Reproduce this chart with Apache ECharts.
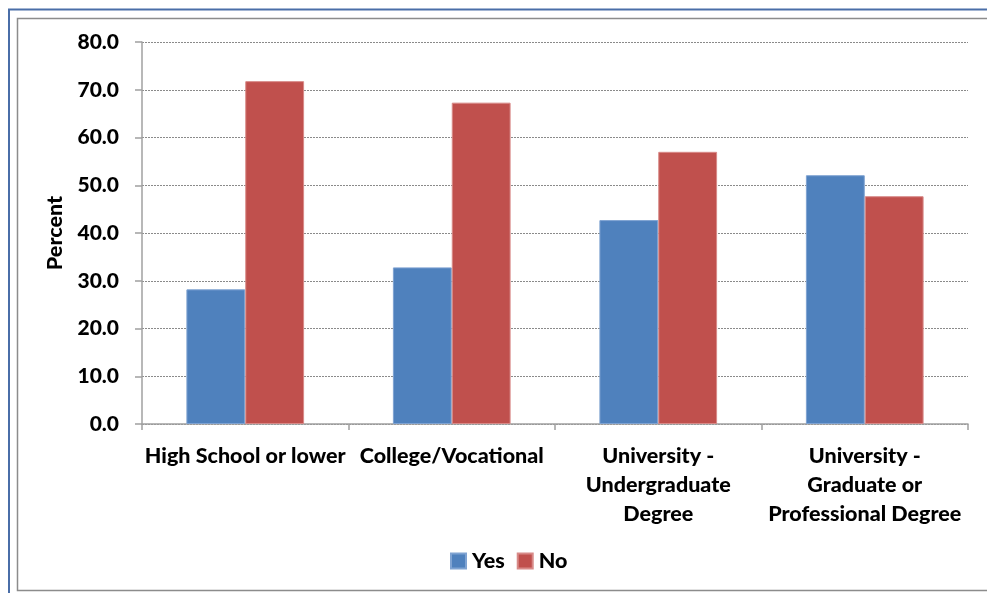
<!DOCTYPE html>
<html>
<head>
<meta charset="utf-8">
<script src="https://cdn.jsdelivr.net/npm/echarts@6/dist/echarts.min.js"></script>
<style>
  html, body { margin: 0; padding: 0; background: #ffffff; }
  #chart { width: 987px; height: 593px; }
</style>
</head>
<body>
<div id="chart"></div>
<script>
// Education level categories
const categories = [
  'High School or lower',
  'College/Vocational',
  'University -\nUndergraduate\nDegree',
  'University -\nGraduate or\nProfessional Degree'
];
// Percent answering Yes / No per category
const yesValues = [28.2, 32.8, 42.7, 52.1];
const noValues = [71.8, 67.3, 57.0, 47.7];
const seriesNames = ['Yes', 'No'];
const yTicks = { min: 0, max: 80, interval: 10 };

const fontFamily = 'Lato, "Open Sans", sans-serif';
const heavy = 900;
const chart = echarts.init(document.getElementById('chart'));

chart.setOption({
  animation: false,
  graphic: [
    // outer blue frame
    { type: 'polyline', shape: { points: [[9, 593], [9, 9.5], [987, 9.5]] },
      style: { stroke: '#4a6ea8', lineWidth: 2, fill: null } },
    // inner gray frame
    { type: 'rect', shape: { x: 17.5, y: 18.5, width: 990, height: 572 },
      style: { stroke: '#8c8c8c', lineWidth: 1.5, fill: null } }
  ],
  grid: { left: 142, right: 19, top: 42, bottom: 169 },
  legend: {
    data: seriesNames,
    top: 545,
    left: 445,
    itemWidth: 15,
    itemHeight: 15,
    itemGap: 12,
    icon: 'rect',
    textStyle: { fontFamily, fontWeight: heavy, fontSize: 21.5, color: '#000', padding: [0, 0, 0, 1] }
  },
  xAxis: {
    type: 'category',
    data: categories,
    axisLine: { lineStyle: { color: '#a0a0a0', width: 1.5 } },
    axisTick: { show: true, length: 6, lineStyle: { color: '#a0a0a0', width: 1.5 } },
    axisLabel: {
      interval: 0, margin: 18, lineHeight: 29,
      fontFamily, fontWeight: heavy, fontSize: 21.5, color: '#000'
    }
  },
  yAxis: {
    type: 'value',
    min: yTicks.min, max: yTicks.max, interval: yTicks.interval,
    name: 'Percent',
    nameLocation: 'middle',
    nameGap: 73,
    nameTextStyle: { fontFamily, fontWeight: heavy, fontSize: 21.5, color: '#000' },
    axisLine: { show: true, lineStyle: { color: '#a0a0a0', width: 1.5 } },
    axisTick: { show: true, length: 7, lineStyle: { color: '#a0a0a0', width: 1.5 } },
    axisLabel: {
      margin: 23, fontFamily, fontWeight: heavy, fontSize: 21, color: '#000',
      formatter: v => v.toFixed(1)
    },
    splitLine: { lineStyle: { color: '#8a8a8a', type: [2, 1], width: 1 } }
  },
  series: [
    {
      name: seriesNames[0], type: 'bar', data: yesValues,
      barGap: '0%', barCategoryGap: '43%',
      itemStyle: { color: '#4f81bd', borderColor: '#7fa3d2', borderWidth: 1 }
    },
    {
      name: seriesNames[1], type: 'bar', data: noValues,
      itemStyle: { color: '#c0504d', borderColor: '#d88a88', borderWidth: 1 }
    }
  ]
});
</script>
</body>
</html>
